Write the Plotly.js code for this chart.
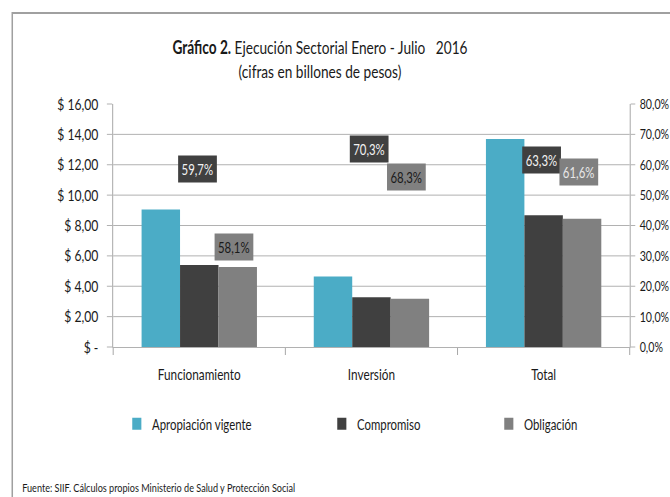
<!DOCTYPE html>
<html>
<head>
<meta charset="utf-8">
<script src="https://cdn.plot.ly/plotly-3.0.1.min.js"></script>
<style>
  html, body { margin: 0; padding: 0; background: #ffffff; overflow: hidden; width: 670px; height: 497px; }
  #chart { width: 882px; height: 497px; transform: scaleX(0.7596); transform-origin: 0 0; }
</style>
</head>
<body>
<div id="chart"></div>
<script>
// ---- Data ----
const categories = ['Funcionamiento', 'Inversión', 'Total'];
const apropiacion = [9.05, 4.65, 13.70];
const compromiso = [5.40, 3.27, 8.67];
const obligacion = [5.26, 3.18, 8.44];
const pctCompromiso = [59.7, 70.3, 63.3];
const pctObligacion = [58.1, 68.3, 61.6];
const seriesNames = ['Apropiación vigente', 'Compromiso', 'Obligación'];
const leftTickVals = [0, 2, 4, 6, 8, 10, 12, 14, 16];
const leftTickText = ['$ -', '$ 2,00', '$ 4,00', '$ 6,00', '$ 8,00', '$ 10,00', '$ 12,00', '$ 14,00', '$ 16,00'];
const rightTickVals = [0, 0.1, 0.2, 0.3, 0.4, 0.5, 0.6, 0.7, 0.8];
const rightTickText = ['0,0%', '10,0%', '20,0%', '30,0%', '40,0%', '50,0%', '60,0%', '70,0%', '80,0%'];

// ---- Style / placement (not data) ----
const S = 0.7596;          // horizontal squeeze applied by CSS (narrow Calibri look)
const W = 882, H = 497;
const px = v => v / S;     // target horizontal pixel -> pre-squeeze pixel
const FONT = 'Lato, Carlito, "Open Sans", sans-serif';
const colors = ['#4BACC6', '#404040', '#808080'];
const gridColor = '#a6a6a6';
const textColor = '#1a1a1a';
const ML = px(113), MR = px(40), MT = 104, MB = 150;
const plotW = W - ML - MR, plotH = H - MT - MB;
const labelPosCompromiso = [11.72, 13.07, 12.33];   // label box centres ($ axis units)
const labelPosObligacion = [6.58, 11.19, 11.50];
const obligLabelFont = ['#1a1a1a', '#1a1a1a', '#e8e8e8'];

const fmtPct = v => v.toFixed(1).replace('.', ',') + '%';

const traces = [
  { type: 'bar', name: seriesNames[0], x: categories, y: apropiacion,
    marker: { color: colors[0] }, legend: 'legend', hoverinfo: 'skip' },
  { type: 'bar', name: seriesNames[1], x: categories, y: compromiso,
    marker: { color: colors[1] }, legend: 'legend2', hoverinfo: 'skip' },
  { type: 'bar', name: seriesNames[2], x: categories, y: obligacion,
    marker: { color: colors[2] }, legend: 'legend3', hoverinfo: 'skip' },
  // carrier for the secondary (percentage) axis
  { type: 'scatter', mode: 'markers', x: categories, y: pctCompromiso.map(v => v / 100),
    yaxis: 'y2', marker: { opacity: 0 }, showlegend: false, hoverinfo: 'skip' }
];

const annotations = [];
categories.forEach((c, i) => {
  annotations.push({
    xref: 'x', yref: 'y', x: c, y: labelPosCompromiso[i], xshift: px(-2),
    text: fmtPct(pctCompromiso[i]), showarrow: false,
    bgcolor: colors[1], borderpad: 4,
    font: { family: FONT, size: 15, color: '#f2f2f2' }
  });
  annotations.push({
    xref: 'x', yref: 'y', x: c, y: labelPosObligacion[i], xshift: px(35),
    text: fmtPct(pctObligacion[i]), showarrow: false,
    bgcolor: colors[2], borderpad: 4,
    font: { family: FONT, size: 15, color: obligLabelFont[i] }
  });
});
annotations.push({
  xref: 'paper', yref: 'paper', x: (px(20) - ML) / plotW, y: (MT + plotH - 487) / plotH,
  xanchor: 'left', yanchor: 'middle',
  text: 'Fuente: SIIF. Cálculos propios Ministerio de Salud y Protección Social',
  showarrow: false, font: { family: FONT, size: 12, color: textColor }
});

const legendBase = {
  orientation: 'h', xref: 'container', yref: 'container', yanchor: 'middle', xanchor: 'left',
  y: 1 - 424 / H, font: { family: FONT, size: 15, color: textColor },
  bgcolor: 'rgba(0,0,0,0)', itemclick: false, itemdoubleclick: false
};

const layout = {
  width: W, height: H,
  margin: { l: ML, r: MR, t: MT, b: MB, pad: 0 },
  paper_bgcolor: '#ffffff', plot_bgcolor: '#ffffff',
  font: { family: FONT, size: 16, color: textColor },
  separators: ',.',
  title: {
    text: '<b>Gráfico 2.</b> Ejecución Sectorial Enero - Julio   2016<br>(cifras en billones de pesos)',
    xref: 'container', x: 320 / 670, xanchor: 'center',
    yref: 'container', y: 1 - 54.5 / H, yanchor: 'middle',
    font: { family: FONT, size: 18, color: textColor }
  },
  barmode: 'group', bargap: 0.33, bargroupgap: 0,
  showlegend: true,
  legend: Object.assign({}, legendBase, { x: (px(152) - 40) / W }),
  legend2: Object.assign({}, legendBase, { x: (px(357) - 40) / W }),
  legend3: Object.assign({}, legendBase, { x: (px(524) - 40) / W }),
  xaxis: {
    type: 'category', showgrid: false, zeroline: false,
    showline: true, linecolor: gridColor, linewidth: 1,
    ticks: 'outside', tickson: 'boundaries', ticklen: 7, tickwidth: 1.3, tickcolor: gridColor,
    ticklabelstandoff: 13,
    tickfont: { family: FONT, size: 15.5, color: textColor }
  },
  yaxis: {
    range: [0, 16], tickvals: leftTickVals, ticktext: leftTickText,
    showgrid: true, gridcolor: gridColor, gridwidth: 1, zeroline: false,
    showline: true, linecolor: gridColor, linewidth: 1.3,
    ticks: 'outside', ticklen: 7, tickcolor: gridColor, ticklabelstandoff: 8,
    tickfont: { family: FONT, size: 16, color: textColor }, fixedrange: true
  },
  yaxis2: {
    overlaying: 'y', side: 'right', range: [0, 0.8],
    tickvals: rightTickVals, ticktext: rightTickText,
    showgrid: false, zeroline: false,
    showline: true, linecolor: gridColor, linewidth: 1.3,
    ticks: 'outside', ticklen: 6, tickcolor: gridColor, ticklabelstandoff: 3,
    tickfont: { family: FONT, size: 14, color: textColor }, fixedrange: true
  },
  annotations: annotations,
  shapes: [{
    type: 'rect', xref: 'paper', yref: 'paper',
    x0: (px(12) - ML) / plotW, x1: 2, y0: -3, y1: (MT + plotH - 13) / plotH,
    line: { color: '#a0a0a0', width: 2 }, fillcolor: 'rgba(0,0,0,0)', layer: 'below'
  }]
};

Plotly.newPlot('chart', traces, layout, { displayModeBar: false, staticPlot: true });
</script>
</body>
</html>
